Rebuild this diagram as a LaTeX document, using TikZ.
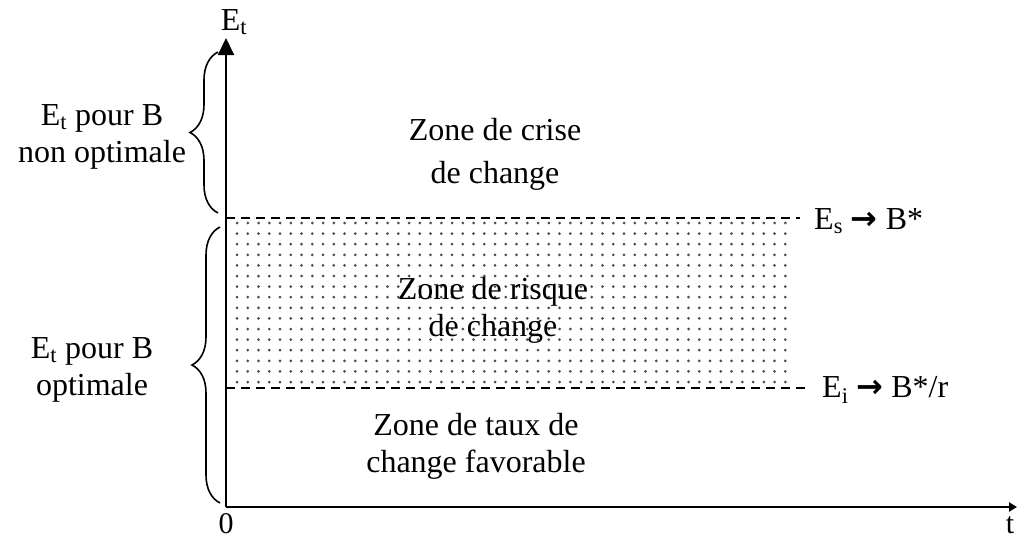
\documentclass[tikz,border=0pt]{standalone}
\usepackage{fontspec}
\setmainfont{Liberation Serif}
\newfontfamily\arrowfont{DejaVu Sans}
\usetikzlibrary{arrows.meta, positioning, decorations.pathreplacing}

\begin{document}
\begin{tikzpicture}[
    x=1pt, y=-1pt,
    axis/.style={line width=2pt},
    txt/.style={font=\fontsize{32}{37}\selectfont, align=center, inner sep=0pt},
    tick/.style={font=\fontsize{30}{36}\selectfont, inner sep=0pt},
    level/.style={line width=1.3pt, dash pattern=on 9pt off 6pt},
    bracket/.style={decorate, decoration={brace, amplitude=28pt, aspect=0.5}, line width=1.6pt}
]
\useasboundingbox (0,0) rectangle (1019,538);

% zone de risque (pointillés)
\foreach \i in {0,...,51}
  \foreach \j in {0,...,15}
    \fill[black!70] (237+\i*10.75, 223+\j*10.6) circle (1.5pt);

% axes
\coordinate (O) at (226,507);
\coordinate (ytop) at (226,38);
\coordinate (xend) at (1017,507);
\draw[axis, -{Triangle[width=16pt,length=17pt]}] (O) -- (ytop);
\draw[axis, -{Triangle[width=9pt,length=8pt]}] (O) -- (xend);
\node[txt] (Et) at (234,22) {E\textsubscript{t}};
\node[tick, anchor=base] (zero) at (226,533) {0};
\node[tick, anchor=base] (t) at (1010,533) {t};

% seuils
\coordinate (s1) at (226,218);
\coordinate (s2) at (800,218);
\coordinate (i1) at (226,388);
\coordinate (i2) at (805,388);
\draw[level] (s1) -- (s2);
\draw[level] (i1) -- (i2);
\node[txt, anchor=west] (Es) at (814,221) {E\textsubscript{s} {\arrowfont\bfseries →} B*};
\node[txt, anchor=west] (Ei) at (822,390) {E\textsubscript{i} {\arrowfont\bfseries →} B*/r};

% zones
\node[txt] (crise) at (495,154) {Zone de crise\\[6pt]de change};
\node[txt] (risque) at (493,310) {Zone de risque\\de change};
\node[txt] (favor) at (476,446) {Zone de taux de\\change favorable};

% accolades
\draw[bracket] (218,213) -- (218,52);
\draw[bracket] (220,503) -- (220,227);
\node[txt] (nonopt) at (102,137) {E\textsubscript{t} pour B\\non optimale};
\node[txt] (opt) at (92,370) {E\textsubscript{t} pour B\\optimale};
\end{tikzpicture}
\end{document}
